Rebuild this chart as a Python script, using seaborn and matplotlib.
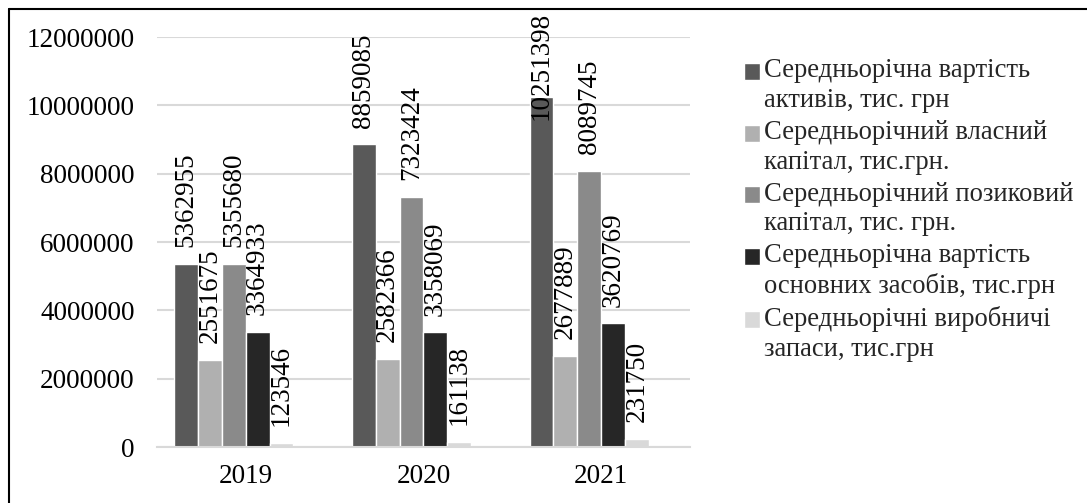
import pandas as pd
import seaborn as sns
import matplotlib.pyplot as plt
from matplotlib.lines import Line2D
from matplotlib.patches import Rectangle
from matplotlib.legend_handler import HandlerPatch

# chart data
years = ["2019", "2020", "2021"]
series = [
    "Середньорічна вартість\nактивів, тис. грн",
    "Середньорічний власний\nкапітал, тис.грн.",
    "Середньорічний позиковий\nкапітал, тис. грн.",
    "Середньорічна вартість\nосновних засобів, тис.грн",
    "Середньорічні виробничі\nзапаси, тис.грн",
]
assets = [5362955, 8859085, 10251398]
equity = [2551675, 2582366, 2677889]
debt = [5355680, 7323424, 8089745]
fixed_assets = [3364933, 3358069, 3620769]
inventory = [123546, 161138, 231750]
colors = ["#595959", "#b0b0b0", "#8a8a8a", "#262626", "#d9d9d9"]

sns.set_theme(style="white")
plt.rcParams["font.family"] = ["Liberation Serif", "DejaVu Serif"]
FS = 19.5
LEG_FS = 19.2

rows = []
for name, vals in zip(series, [assets, equity, debt, fixed_assets, inventory]):
    for y, v in zip(years, vals):
        rows.append({"year": y, "value": v, "series": name})
df = pd.DataFrame(rows)

fig = plt.figure(figsize=(10.87, 5.03), dpi=100)
ax = fig.add_axes([0.1444, 0.1113, 0.4904, 0.8151])

sns.barplot(data=df, x="year", y="value", hue="series", palette=colors,
            width=0.67, gap=0, saturation=1, ax=ax, legend=True)

for cont in ax.containers:
    anns = ax.bar_label(cont, labels=[str(int(v)) for v in cont.datavalues],
                        rotation=90, padding=12, fontsize=FS, color="black")
    # the tallest label is pushed down inside the chart area, as in Excel
    for ann, v in zip(anns, cont.datavalues):
        if v > 10000000:
            ann.xyann = (0, -17)

# bars sit a little left of the category labels
shift = 0.0675
ax.set_xlim(-0.5 + shift, 2.5 + shift)
ax.set_xticks([i + shift for i in range(len(years))])
ax.set_xticklabels(years)

ax.set_ylim(0, 12000000)
ax.set_yticks(range(0, 12000001, 2000000))
ax.set_yticklabels([str(v) for v in range(0, 12000001, 2000000)])
ax.yaxis.grid(True, color="#d9d9d9", linewidth=1.5)
ax.set_axisbelow(True)
for side in ["left", "right", "top"]:
    ax.spines[side].set_visible(False)
ax.spines["bottom"].set_color("#d9d9d9")
ax.spines["bottom"].set_linewidth(1.5)
ax.tick_params(axis="both", length=0, labelsize=FS, colors="black")
ax.tick_params(axis="y", pad=16)
ax.tick_params(axis="x", pad=12)
ax.set_xlabel("")
ax.set_ylabel("")


def first_line_square(legend, orig_handle, xdescent, ydescent,
                      width, height, fontsize):
    # square marker next to the first line of a two-line label
    return Rectangle((-xdescent, -ydescent + 10.4), width, height)


handles, labels = ax.get_legend_handles_labels()
leg = ax.legend(handles, labels, loc="upper left",
                bbox_to_anchor=(0.675, 0.905), bbox_transform=fig.transFigure,
                frameon=False, fontsize=LEG_FS, handlelength=0.6,
                handleheight=0.6, handletextpad=0.15, labelspacing=0.25,
                borderaxespad=0,
                handler_map={Rectangle: HandlerPatch(
                    patch_func=first_line_square)})
for t in leg.get_texts():
    t.set_linespacing(1.256)

# outer frame (only top and left visible)
fig.add_artist(Line2D([9 / 1087, 1], [1 - 9 / 503, 1 - 9 / 503],
                      transform=fig.transFigure, color="black", lw=1.5))
fig.add_artist(Line2D([9 / 1087, 9 / 1087], [0, 1 - 9 / 503],
                      transform=fig.transFigure, color="black", lw=1.5))

fig.savefig("out.png", dpi=100)
